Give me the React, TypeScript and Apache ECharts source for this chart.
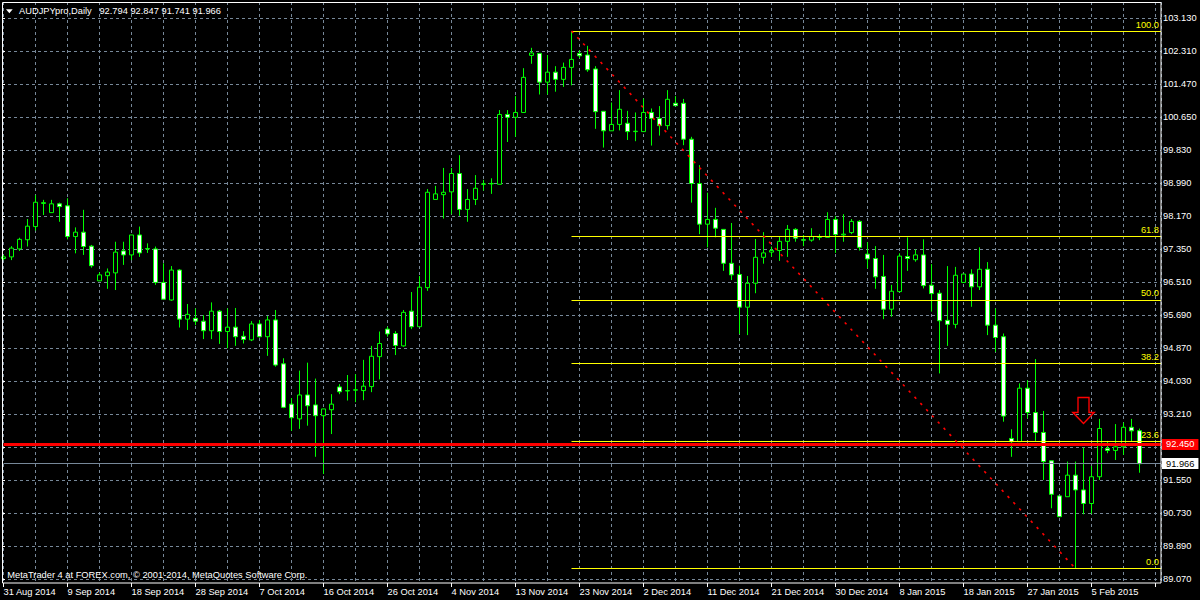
import React, { useEffect, useRef } from "react";
import * as echarts from "echarts";

const symbolName = "AUDJPYpro";
const periodName = "Daily";
const copyrightText = "MetaTrader 4 at FOREX.com, \u00a9 2001-2014, MetaQuotes Software Corp.";

const dateLabels = [
  "31 Aug 2014", "9 Sep 2014", "18 Sep 2014", "28 Sep 2014", "7 Oct 2014", "16 Oct 2014",
  "26 Oct 2014", "4 Nov 2014", "13 Nov 2014", "23 Nov 2014", "2 Dec 2014", "11 Dec 2014",
  "21 Dec 2014", "30 Dec 2014", "8 Jan 2015", "18 Jan 2015", "27 Jan 2015", "5 Feb 2015",
];

const priceTickLabels = [
  "89.070", "89.890", "90.730", "91.550", "92.370", "93.210", "94.030", "94.870", "95.690",
  "96.510", "97.350", "98.170", "98.990", "99.830", "100.650", "101.470", "102.310", "103.130",
];

const opens = [
  97.11, 97.15, 97.35, 97.58, 97.91, 98.49, 98.26, 98.48, 98.43, 97.66,
  97.77, 97.42, 96.55, 96.68, 96.75, 97.30, 97.20, 97.70, 97.35, 97.35,
  96.51, 96.07, 96.82, 95.59, 95.61, 95.54, 95.30, 95.79, 95.28, 95.39,
  95.16, 95.07, 95.47, 95.15, 95.57, 94.47, 93.46, 93.09, 93.69, 93.44,
  93.17, 93.32, 93.89, 93.79, 93.81, 93.80, 93.90, 94.65, 95.34, 95.23,
  94.92, 95.79, 95.40, 96.38, 98.59, 98.71, 98.78, 99.24, 98.34, 98.59,
  98.97, 98.98, 98.97, 100.72, 100.65, 100.77, 102.20, 102.25, 101.53, 101.78,
  101.60, 101.90, 102.25, 102.21, 101.86, 100.80, 100.31, 100.47, 100.50, 100.29,
  100.29, 100.77, 100.62, 100.44, 101.00, 101.00, 100.10, 98.99, 97.97, 98.09,
  97.84, 96.99, 96.71, 95.89, 96.49, 97.14, 97.27, 97.31, 97.54, 97.84,
  97.58, 97.57, 97.64, 97.64, 98.09, 97.70, 97.76, 98.04, 97.22, 97.11,
  96.66, 95.84, 96.28, 97.16, 97.08, 97.20, 96.44, 96.24, 95.56, 95.46,
  96.51, 96.72, 96.40, 96.84, 95.44, 95.15, 92.60, 92.52, 93.86, 93.25,
  92.75, 92.04, 91.16, 91.14, 91.68, 91.31, 90.97, 91.64, 92.35, 92.30,
  92.39, 92.88, 92.794,
];

const highs = [
  97.20, 97.42, 97.63, 98.10, 98.70, 98.58, 98.58, 98.51, 98.62, 97.89,
  98.33, 97.45, 96.76, 96.86, 97.53, 97.53, 97.70, 97.91, 97.49, 97.41,
  96.99, 96.92, 96.84, 95.97, 95.86, 95.69, 96.01, 95.82, 95.86, 95.87,
  95.29, 95.54, 95.57, 95.67, 95.82, 94.61, 93.61, 94.30, 94.50, 94.10,
  93.34, 93.71, 93.96, 94.19, 94.21, 94.57, 94.92, 95.28, 95.40, 95.29,
  95.82, 96.27, 96.67, 98.85, 98.93, 99.38, 99.38, 99.70, 98.85, 99.20,
  99.08, 99.12, 100.83, 100.83, 101.18, 101.88, 102.39, 102.26, 102.21, 101.93,
  102.02, 102.81, 102.33, 102.44, 101.93, 100.80, 101.02, 101.33, 100.81, 100.77,
  101.12, 100.87, 100.93, 101.33, 101.18, 101.11, 100.16, 99.45, 98.76, 98.38,
  97.84, 98.00, 96.93, 96.67, 97.60, 97.77, 97.41, 97.67, 97.95, 97.87,
  97.70, 97.87, 97.72, 98.27, 98.17, 98.22, 98.10, 98.07, 97.52, 97.42,
  97.20, 96.45, 97.24, 97.64, 97.34, 97.59, 96.97, 96.32, 96.92, 96.90,
  96.72, 96.84, 97.39, 97.02, 95.86, 95.23, 92.83, 93.98, 94.06, 94.59,
  93.29, 92.04, 91.16, 92.02, 92.02, 92.37, 91.91, 93.09, 92.54, 92.96,
  93.00, 93.09, 92.847,
];

const lows = [
  97.07, 97.07, 97.30, 97.41, 97.81, 98.20, 98.26, 98.03, 97.59, 97.24,
  97.20, 96.88, 96.55, 96.35, 96.32, 96.95, 97.07, 97.15, 97.25, 96.45,
  96.09, 96.05, 95.38, 95.32, 95.44, 95.09, 95.09, 94.97, 94.86, 94.92,
  94.98, 95.04, 95.13, 94.67, 94.40, 93.36, 92.79, 92.84, 92.92, 92.14,
  91.71, 92.71, 93.71, 93.55, 93.51, 93.56, 93.76, 94.08, 95.15, 94.69,
  94.90, 95.34, 95.40, 96.30, 98.59, 98.11, 98.22, 98.18, 98.03, 98.45,
  98.81, 98.73, 98.97, 100.03, 100.16, 100.77, 101.99, 101.22, 101.22, 101.29,
  101.41, 101.45, 102.13, 101.79, 100.36, 99.89, 100.31, 100.32, 100.08, 100.05,
  100.29, 99.94, 100.19, 100.34, 100.94, 99.95, 98.51, 97.72, 97.39, 97.64,
  96.80, 96.57, 95.22, 95.19, 96.24, 96.98, 97.15, 97.05, 97.15, 97.53,
  97.42, 97.53, 97.57, 97.64, 97.25, 97.53, 97.72, 97.31, 96.86, 96.35,
  95.59, 95.65, 96.28, 96.80, 97.03, 96.36, 95.78, 94.23, 94.92, 95.36,
  96.51, 95.90, 96.32, 95.19, 94.77, 93.02, 92.14, 92.52, 93.10, 92.54,
  91.56, 90.85, 90.64, 91.14, 89.34, 90.70, 90.71, 91.56, 92.23, 92.06,
  92.19, 92.52, 91.741,
];

const closes = [
  97.15, 97.37, 97.59, 97.92, 98.52, 98.51, 98.48, 98.41, 97.66, 97.77,
  97.41, 96.93, 96.70, 96.77, 97.27, 97.20, 97.70, 97.25, 97.36, 96.51,
  96.09, 96.82, 95.59, 95.71, 95.54, 95.30, 95.79, 95.28, 95.39, 95.15,
  95.08, 95.47, 95.15, 95.57, 94.44, 93.38, 93.12, 93.69, 93.42, 93.17,
  93.34, 93.46, 93.77, 93.80, 93.82, 93.91, 94.66, 94.98, 95.22, 94.93,
  95.76, 95.40, 96.39, 98.77, 98.73, 98.77, 99.24, 98.34, 98.59, 98.87,
  98.98, 98.99, 100.72, 100.65, 100.77, 101.65, 102.26, 101.53, 101.78, 101.60,
  101.90, 102.10, 102.19, 101.84, 100.79, 100.31, 100.47, 100.85, 100.29, 100.30,
  100.77, 100.62, 100.44, 101.10, 100.94, 100.10, 98.99, 97.97, 98.09, 97.87,
  96.99, 96.70, 95.89, 96.49, 97.14, 97.25, 97.31, 97.54, 97.84, 97.62,
  97.57, 97.66, 97.65, 98.09, 97.71, 97.72, 98.04, 97.39, 97.10, 96.65,
  95.84, 96.29, 97.17, 97.11, 97.20, 96.43, 96.23, 95.55, 95.46, 96.69,
  96.72, 96.40, 96.84, 95.44, 95.13, 93.16, 92.52, 93.86, 93.25, 92.75,
  92.02, 91.20, 90.64, 91.68, 91.31, 90.97, 91.64, 92.85, 92.30, 92.39,
  92.88, 92.79, 91.966,
];

const fibLevels = [0, 23.6, 38.2, 50, 61.8, 100];
const fibHighIndex = 71;
const fibLowIndex = 134;
const horizontalLevel = 92.45;
const arrowIndex = 135;
const arrowPrice = 93.3;

// ---- layout / style ----
const FONT = '"Liberation Sans", Arial, sans-serif';
const FS = 9.3;
const GRID_COLOR = "#778899";
const CANDLE_GREEN = "#00ff00";
const PLOT_RIGHT = 1161;
const PLOT_BOTTOM = 583;
const PLOT_TOP = 2;
const BAR0_X = 3.5;
const BAR_STEP = 8;
const TOP_TICK_Y = 18.3;
const BOTTOM_TICK_Y = 579.3;

function buildOption() {
  const n = opens.length;
  const last = n - 1;
  const xMax = (PLOT_RIGHT - BAR0_X) / BAR_STEP;
  const axisMin = parseFloat(priceTickLabels[0]);
  const axisMax = parseFloat(priceTickLabels[priceTickLabels.length - 1]);
  const ppx = (axisMax - axisMin) / (BOTTOM_TICK_Y - TOP_TICK_Y);
  const dataMin = axisMin - (PLOT_BOTTOM - BOTTOM_TICK_Y) * ppx;
  const dataMax = axisMax + (TOP_TICK_Y - PLOT_TOP) * ppx;

  const fibHigh = highs[fibHighIndex];
  const fibLow = lows[fibLowIndex];
  const lastClose = closes[last];

  const candleData = opens.map((o, i) => [i, o, closes[i], lows[i], highs[i]]);

  const fibLines = fibLevels.map((lv) => {
    const price = fibLow + ((fibHigh - fibLow) * lv) / 100;
    return [
      {
        coord: [fibHighIndex, price],
        lineStyle: { color: "#ffff00", width: 1, type: "solid" },
        label: {
          show: true,
          position: "insideEndTop",
          formatter: lv.toFixed(1),
          color: "#ffff00",
          fontSize: FS,
          fontFamily: FONT,
          distance: 2,
        },
      },
      { coord: [xMax, price] },
    ];
  });

  const trendLine = [
    {
      coord: [fibHighIndex, fibHigh],
      lineStyle: { color: "#ff0000", width: 1.6, type: [2.5, 6] },
      label: { show: false },
    },
    { coord: [fibLowIndex, fibLow] },
  ];

  const redLevel = {
    yAxis: horizontalLevel,
    lineStyle: { color: "#ff0000", width: 3, type: "solid" },
    label: {
      show: true,
      position: "end",
      formatter: horizontalLevel.toFixed(3),
      backgroundColor: "#ff0000",
      color: "#ffffff",
      padding: [1, 4, 1, 4],
      distance: 1,
      fontSize: FS,
      fontFamily: FONT,
    },
  };

  const priceLine = {
    yAxis: lastClose,
    lineStyle: { color: GRID_COLOR, width: 1, type: "solid" },
    label: {
      show: true,
      position: "end",
      formatter: lastClose.toFixed(3),
      backgroundColor: "#ffffff",
      color: "#000000",
      padding: [1, 4, 1, 4],
      distance: 1,
      fontSize: FS,
      fontFamily: FONT,
    },
  };

  const headerText =
    `${symbolName},${periodName}\u00a0\u00a0\u00a0` +
    [opens[last], highs[last], lows[last], closes[last]].map((v) => v.toFixed(3)).join(" ");

  return {
    animation: false,
    backgroundColor: "#000000",
    grid: [
      { left: BAR0_X, right: 1200 - PLOT_RIGHT, top: PLOT_TOP, bottom: 600 - PLOT_BOTTOM, show: false },
      { left: 2, right: 1200 - PLOT_RIGHT, top: TOP_TICK_Y, bottom: 600 - BOTTOM_TICK_Y, show: false },
    ],
    xAxis: [
      {
        type: "value",
        gridIndex: 0,
        min: 0,
        max: xMax,
        interval: 4,
        axisLine: { show: false, onZero: false },
        axisTick: { show: false },
        axisLabel: { show: false },
        splitLine: { show: true, lineStyle: { color: GRID_COLOR, width: 1, type: [3, 3] } },
      },
      {
        type: "value",
        gridIndex: 0,
        position: "bottom",
        min: 0,
        max: xMax,
        interval: 8,
        axisLine: { show: false, onZero: false },
        axisTick: { show: true, length: 4, lineStyle: { color: "#ffffff", width: 1 } },
        axisLabel: {
          show: true,
          color: "#ffffff",
          fontSize: FS,
          fontFamily: FONT,
          align: "left",
          margin: 4,
          showMinLabel: true,
          showMaxLabel: false,
          formatter: (v: number) => {
            const k = v / 8;
            return Number.isInteger(k) && k < dateLabels.length ? dateLabels[k] : "";
          },
        },
        splitLine: { show: false },
      },
      { type: "value", gridIndex: 1, min: 0, max: 1, show: false },
    ],
    yAxis: [
      {
        type: "value",
        gridIndex: 0,
        min: dataMin,
        max: dataMax,
        show: false,
        splitLine: { show: false },
      },
      {
        type: "value",
        gridIndex: 1,
        position: "right",
        min: 0,
        max: priceTickLabels.length - 1,
        interval: 1,
        axisLine: { show: false },
        axisTick: { show: true, length: 3, lineStyle: { color: "#ffffff", width: 1 } },
        axisLabel: {
          color: "#ffffff",
          fontSize: FS,
          fontFamily: FONT,
          margin: 2,
          formatter: (v: number) => {
            const k = Math.round(v);
            return Math.abs(v - k) < 1e-6 && priceTickLabels[k] ? priceTickLabels[k] : "";
          },
        },
        splitLine: { show: true, lineStyle: { color: GRID_COLOR, width: 1, type: [3, 3] } },
      },
    ],
    series: [
      {
        type: "candlestick",
        name: symbolName,
        xAxisIndex: 0,
        yAxisIndex: 0,
        barWidth: 4,
        data: candleData,
        itemStyle: {
          color: "#000000",
          color0: "#ffffff",
          borderColor: CANDLE_GREEN,
          borderColor0: CANDLE_GREEN,
          borderColorDoji: CANDLE_GREEN,
          borderWidth: 1,
        },
        markLine: {
          silent: true,
          animation: false,
          symbol: ["none", "none"],
          label: { show: false },
          data: [...fibLines, trendLine, priceLine, redLevel],
        },
        markPoint: {
          silent: true,
          animation: false,
          symbol: "path://M5,0 L16,0 L16,15 L21,15 L10.5,26 L0,15 L5,15 Z",
          symbolSize: [21, 26],
          label: { show: false },
          itemStyle: { color: "rgba(0,0,0,0)", borderColor: "#ff0000", borderWidth: 1.5 },
          data: [{ coord: [arrowIndex, arrowPrice] }],
        },
      },
    ],
    graphic: [
      {
        type: "rect",
        silent: true,
        z: 100,
        shape: { x: 2.5, y: 2.5, width: PLOT_RIGHT - 2.5, height: PLOT_BOTTOM - 2.5 },
        style: { fill: "transparent", stroke: "#ffffff", lineWidth: 1 },
      },
      {
        type: "polygon",
        silent: true,
        z: 100,
        shape: { points: [[6, 9.3], [12.7, 9.3], [9.35, 13.3]] },
        style: { fill: "#ffffff" },
      },
      {
        type: "text",
        silent: true,
        z: 100,
        x: 19,
        y: 10.7,
        style: { text: headerText, fill: "#ffffff", fontSize: FS, fontFamily: FONT, verticalAlign: "middle" },
      },
      {
        type: "text",
        silent: true,
        z: 100,
        x: 7.3,
        y: 575,
        style: { text: copyrightText, fill: "#ffffff", fontSize: FS, fontFamily: FONT, verticalAlign: "middle" },
      },
    ],
  };
}

export default function App() {
  const ref = useRef<HTMLDivElement>(null);
  useEffect(() => {
    if (!ref.current) return;
    const chart = echarts.init(ref.current, undefined, { renderer: "svg" });
    chart.setOption(buildOption() as any);
    return () => chart.dispose();
  }, []);
  return (
    <div
      ref={ref}
      style={{ position: "fixed", left: 0, top: 0, width: 1200, height: 600, background: "#000000" }}
    />
  );
}
